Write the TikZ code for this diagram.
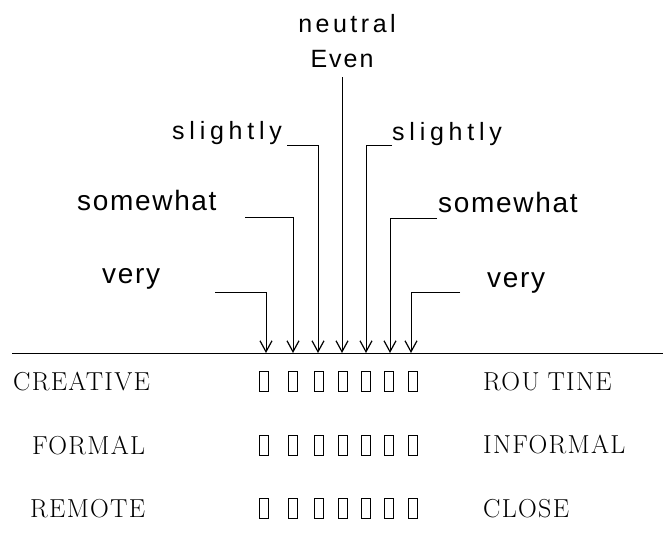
\documentclass[tikz,border=0pt]{standalone}
\usepackage{fontspec}
\usetikzlibrary{arrows.meta}
\newfontfamily\scalefont{Liberation Sans}[LetterSpace=6]
\newfontfamily\dotwide{Liberation Sans}[LetterSpace=19]
\newfontfamily\dotmid{Liberation Sans}[LetterSpace=14]
\newfontfamily\dotnarrow{Liberation Sans}[LetterSpace=8]
\newfontfamily\polefont{Latin Modern Roman}[LetterSpace=5]
\tikzset{
  degree/.style={inner sep=0pt, anchor=base west, font=\scalefont\fontsize{28}{32}\selectfont},
  dotted label/.style={inner sep=0pt, anchor=base west, font=\dotwide\fontsize{25}{29}\selectfont},
  pole/.style={inner sep=0pt, anchor=base west, font=\polefont\fontsize{26}{30}\selectfont},
  tick box/.style={draw, line width=1pt, minimum width=9pt, minimum height=20pt, inner sep=0pt},
  pointer/.style={line width=0.9pt, -{Straight Barb[length=11pt,width=12pt,line width=1.2pt]}}
}
\begin{document}
\begin{tikzpicture}[x=1pt,y=-1pt]
    \useasboundingbox (0,0) rectangle (663,539);
    % scale points on the line
    \foreach \i/\x in {1/266,2/293,3/318,4/342,5/366,6/390,7/411} {
        \coordinate (t\i) at (\x,353);
    }
    \draw[line width=0.9pt] (12,353) -- (663,353);
    % labels above the line
    \node[inner sep=0pt, anchor=base, font=\dotmid\fontsize{25}{29}\selectfont] (neutral) at (347,32) {neutral};
    \node[inner sep=0pt, anchor=base, font=\dotnarrow\fontsize{25}{29}\selectfont] (even) at (342,67) {Even};
    \node[dotted label] (slL) at (172,139) {slightly};
    \node[dotted label] (slR) at (392,140) {slightly};
    \node[degree] (swL) at (77,210) {somewhat};
    \node[degree] (swR) at (438,212) {somewhat};
    \node[degree] (vyL) at (102,283) {very};
    \node[degree] (vyR) at (487,287) {very};
    % bends of the pointers
    \coordinate (k1) at (215,292);
    \coordinate (k2) at (245,217);
    \coordinate (k3) at (287,145);
    \coordinate (k4) at (342,77);
    \coordinate (k5) at (392,145);
    \coordinate (k6) at (437,218);
    \coordinate (k7) at (460,292);
    \draw[pointer] (k1) -| (t1);
    \draw[pointer] (k2) -| (t2);
    \draw[pointer] (k3) -| (t3);
    \draw[pointer] (k4) -- (t4);
    \draw[pointer] (k5) -| (t5);
    \draw[pointer] (k6) -| (t6);
    \draw[pointer] (k7) -| (t7);
    % rating rows
    \node[pole] (creative) at (13,390) {CREATIVE};
    \node[pole] (routine) at (483,390) {ROU\kern8pt TINE};
    \node[pole] (formal) at (32,454) {FORMAL};
    \node[pole] (informal) at (483,453) {INFORMAL};
    \node[pole] (remote) at (30,517) {REMOTE};
    \node[pole] (close) at (483,517) {CLOSE};
    \foreach \r/\y in {1/381,2/445,3/508} {
        \foreach \i/\x in {1/264,2/293,3/319,4/343,5/366,6/389,7/413} {
            \node[tick box] (b\r\i) at (\x,\y) {};
        }
    }
\end{tikzpicture}
\end{document}
